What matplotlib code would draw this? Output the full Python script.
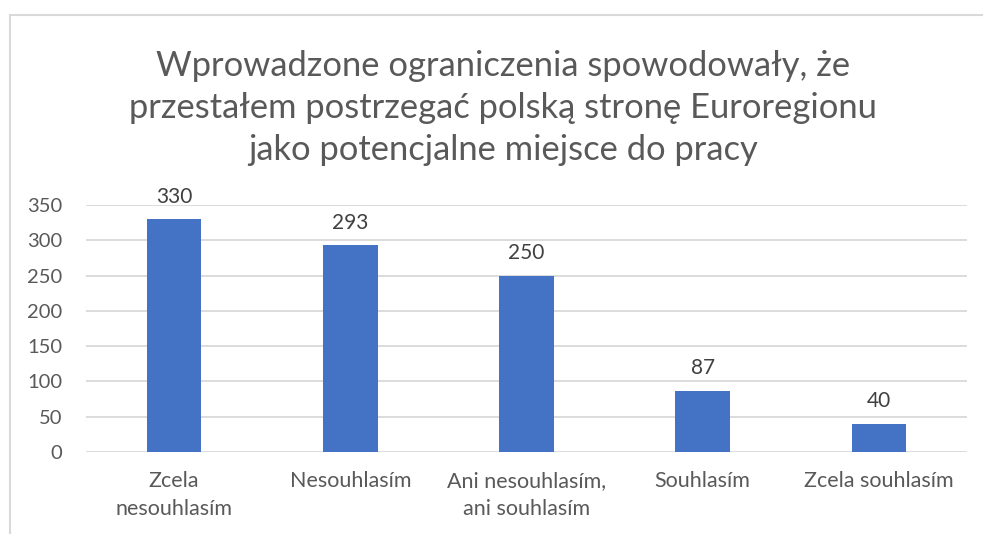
import matplotlib.pyplot as plt
from matplotlib.patches import Rectangle

# answers and counts
categories = ["Zcela\nnesouhlasím", "Nesouhlasím", "Ani nesouhlasím,\nani souhlasím",
              "Souhlasím", "Zcela souhlasím"]
counts = [330, 293, 250, 87, 40]
yticks = [0, 50, 100, 150, 200, 250, 300, 350]
title = ("Wprowadzone ograniczenia spowodowały, że\n"
         "przestałem postrzegać polską stronę Euroregionu\n"
         "jako potencjalne miejsce do pracy")

plt.rcParams['font.family'] = ['Lato', 'DejaVu Sans']
grey = '#595959'

fig = plt.figure(figsize=(9.83, 5.34), dpi=100)
# chart frame (left and top edges visible)
fig.patches.append(Rectangle((10 / 983, -0.1), 1.2, 1 - 15 / 534 + 0.1,
                             transform=fig.transFigure, fill=False,
                             edgecolor='#D9D9D9', linewidth=1.5))

ax = fig.add_axes([86 / 983, 1 - 452 / 534, (967 - 86) / 983, (452 - 205) / 534])
x = range(len(categories))
bars = ax.bar(x, counts, width=0.31, color='#4472C4', zorder=3)
for b, v in zip(bars, counts):
    ax.annotate(str(v), (b.get_x() + b.get_width() / 2, v), xytext=(0, 9),
                textcoords='offset points', ha='center', va='bottom',
                fontsize=15, color='#404040')

ax.set_xlim(-0.5, len(categories) - 0.5)
ax.set_ylim(0, 350)
ax.set_yticks(yticks)
ax.set_xticks(list(x))
ax.set_xticklabels(categories, fontsize=15.5, color=grey, linespacing=1.45)
ax.tick_params(axis='y', labelsize=14.5, labelcolor=grey, length=0, pad=17)
ax.tick_params(axis='x', length=0, pad=14)
ax.grid(axis='y', color='#D9D9D9', linewidth=1.3, zorder=0)
for s in ax.spines.values():
    s.set_visible(False)

fig.text(503 / 983, 1 - 108 / 534, title, ha='center', va='center', fontsize=24.8,
         color=grey, linespacing=1.4, multialignment='center')

fig.savefig('out.png', dpi=100)
